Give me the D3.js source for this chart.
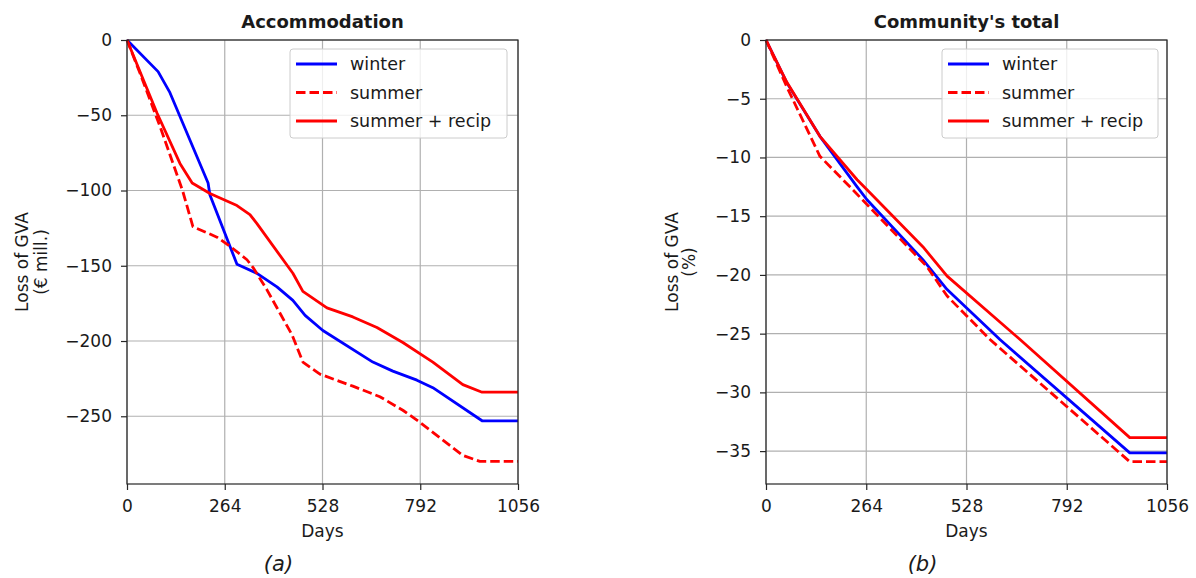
<!DOCTYPE html>
<html><head><meta charset="utf-8">
<script src="https://cdn.jsdelivr.net/npm/d3@7"></script>
<style>
body{margin:0;background:#fff;}
svg text{font-family:"DejaVu Sans",sans-serif;fill:#1a1a1a;}
</style></head>
<body>
<svg id="chart" width="1196" height="578"></svg>
<script>
// ---- Data ----
const xTicks = [0, 264, 528, 792, 1056];
const seriesNames = ["winter", "summer", "summer + recip"];

// Panel (a): Accommodation (€ mill.)
const accWinterDays   = [0, 84, 116, 219, 224, 297, 351, 405, 448, 481, 529, 664, 718, 783, 826, 959, 1056];
const accWinterVals   = [0, -21, -35, -95, -103, -149, -155, -164, -173, -183, -193, -214, -220, -226, -231, -253, -253];
const accSummerDays   = [0, 35, 90, 150, 178, 243, 278, 324, 340, 378, 446, 475, 521, 610, 683, 745, 791, 907, 953, 1056];
const accSummerVals   = [0, -22, -58, -100, -124, -131, -137, -146, -151, -166, -196, -214, -222, -230, -237, -246, -254, -276, -280, -280];
const accRecipDays    = [0, 81, 143, 176, 224, 297, 332, 351, 448, 475, 540, 610, 675, 745, 826, 907, 959, 1056];
const accRecipVals    = [0, -48.5, -82, -95, -102, -110, -116, -122, -155, -167, -178, -184, -191, -201, -214, -229, -234, -234];
const accYTicks = [0, -50, -100, -150, -200, -250];

// Panel (b): Community's total (%)
const comWinterDays = [0, 55, 142, 240, 266, 413, 477, 616, 958, 1056];
const comWinterVals = [0, -3.65, -8.2, -12.5, -13.6, -18.7, -21.25, -25.5, -35.15, -35.15];
const comSummerDays = [0, 55, 142, 221, 424, 477, 590, 958, 1056];
const comSummerVals = [0, -4.0, -9.9, -12.5, -19.3, -21.8, -25.5, -35.9, -35.9];
const comRecipDays  = [0, 55, 142, 240, 266, 413, 477, 669, 958, 1056];
const comRecipVals  = [0, -3.6, -8.2, -11.9, -12.75, -17.6, -20.1, -25.5, -33.85, -33.85];
const comYTicks = [0, -5, -10, -15, -20, -25, -30, -35];

const zip = (d, v) => d.map((x, i) => ({x, y: v[i]}));

const panels = [
  {title: "Accommodation", ylab: ["Loss of GVA", "(€ mill.)"], sub: "(a)",
   left: 127, right: 518, ymin: -295, yTicks: accYTicks, ylabX: [22, 41],
   series: [zip(accWinterDays, accWinterVals), zip(accSummerDays, accSummerVals), zip(accRecipDays, accRecipVals)],
   legend: {x: 290, w: 217}},
  {title: "Community's total", ylab: ["Loss of GVA", "(%)"], sub: "(b)",
   left: 766, right: 1167, ymin: -37.8, yTicks: comYTicks, ylabX: [672, 689],
   series: [zip(comWinterDays, comWinterVals), zip(comSummerDays, comSummerVals), zip(comRecipDays, comRecipVals)],
   legend: {x: 942, w: 216}}
];
const styles = [
  {color: "#0000ff", dash: null},
  {color: "#ff0000", dash: "9.5,4"},
  {color: "#ff0000", dash: null}
];

const svg = d3.select("#chart");
const plotTop = 40, plotBottom = 484;
const fmt = v => (v < 0 ? "\u2212" + Math.abs(v) : String(v));
const FS = 17;

panels.forEach(p => {
  const x = d3.scaleLinear().domain([0, 1056]).range([p.left, p.right]);
  const y = d3.scaleLinear().domain([p.ymin, 0]).range([plotBottom, plotTop]);
  const g = svg.append("g");

  // grid
  g.append("g").selectAll("line").data(xTicks).join("line")
    .attr("x1", d => x(d)).attr("x2", d => x(d)).attr("y1", plotTop).attr("y2", plotBottom)
    .attr("stroke", "#b0b0b0").attr("stroke-width", 1.2);
  g.append("g").selectAll("line").data(p.yTicks).join("line")
    .attr("x1", p.left).attr("x2", p.right).attr("y1", d => y(d)).attr("y2", d => y(d))
    .attr("stroke", "#b0b0b0").attr("stroke-width", 1.2);

  // lines
  const line = d3.line().x(d => x(d.x)).y(d => y(d.y));
  p.series.forEach((s, i) => {
    g.append("path").datum(s).attr("d", line).attr("fill", "none")
      .attr("stroke", styles[i].color).attr("stroke-width", 2.8)
      .attr("stroke-dasharray", styles[i].dash).attr("stroke-linejoin", "round");
  });

  // axes
  const xa = g.append("g").attr("transform", `translate(0,${plotBottom})`)
    .call(d3.axisBottom(x).tickValues(xTicks).tickSize(6).tickPadding(10).tickFormat(d3.format("d")));
  const ya = g.append("g").attr("transform", `translate(${p.left},0)`)
    .call(d3.axisLeft(y).tickValues(p.yTicks).tickSize(6).tickPadding(9).tickFormat(fmt));
  [xa, ya].forEach(a => {
    a.select(".domain").remove();
    a.selectAll("text").attr("font-size", FS).attr("font-family", "DejaVu Sans").attr("fill", "#1a1a1a");
    a.selectAll("line").attr("stroke", "#262626").attr("stroke-width", 1.2);
  });
  // frame
  g.append("rect").attr("x", p.left).attr("y", plotTop).attr("width", p.right - p.left).attr("height", plotBottom - plotTop)
    .attr("fill", "none").attr("stroke", "#262626").attr("stroke-width", 1.2);

  // title
  g.append("text").attr("x", (p.left + p.right) / 2).attr("y", 28).attr("text-anchor", "middle")
    .attr("font-size", 18).attr("font-weight", "bold").attr("fill", "#000").text(p.title);
  // x label
  g.append("text").attr("x", (p.left + p.right) / 2).attr("y", 537).attr("text-anchor", "middle")
    .attr("font-size", FS).text("Days");
  // y label
  p.ylab.forEach((t, i) => {
    g.append("text").attr("transform", `translate(${p.ylabX[i]},${(plotTop + plotBottom) / 2}) rotate(-90)`)
      .attr("text-anchor", "middle").attr("dy", "0.35em").attr("font-size", FS).text(t);
  });
  // subfigure label
  g.append("text").attr("x", (p.left + p.right) / 2 - 44).attr("y", 571).attr("text-anchor", "middle")
    .attr("font-size", 21).attr("font-style", "italic").attr("font-family", "Liberation Sans, Arial, sans-serif")
    .attr("fill", "#000").text(p.sub);

  // legend
  const lg = g.append("g");
  lg.append("rect").attr("x", p.legend.x).attr("y", 49).attr("width", p.legend.w).attr("height", 89)
    .attr("rx", 3).attr("fill", "#fff").attr("fill-opacity", 0.8).attr("stroke", "#cccccc");
  seriesNames.forEach((n, i) => {
    const yy = 64 + i * 28.5;
    lg.append("line").attr("x1", p.legend.x + 6).attr("x2", p.legend.x + 47).attr("y1", yy).attr("y2", yy)
      .attr("stroke", styles[i].color).attr("stroke-width", 2.8).attr("stroke-dasharray", styles[i].dash);
    lg.append("text").attr("x", p.legend.x + 60).attr("y", yy).attr("dy", "0.35em")
      .attr("font-size", 17.5).text(n);
  });
});
</script>
</body></html>
